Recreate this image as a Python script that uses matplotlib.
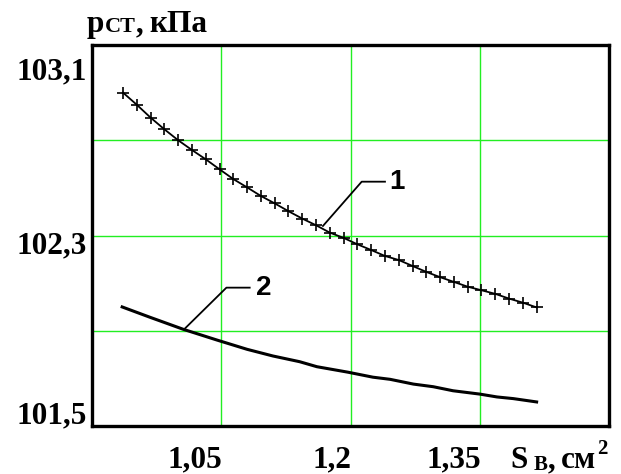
import matplotlib
matplotlib.use("Agg")
import matplotlib.pyplot as plt

# curve 1 (with "+" markers)
s1 = [0.936, 0.952, 0.968, 0.984, 1.000, 1.016, 1.032, 1.048, 1.064, 1.080,
      1.096, 1.112, 1.128, 1.144, 1.160, 1.176, 1.192, 1.208, 1.224, 1.240,
      1.256, 1.272, 1.288, 1.304, 1.320, 1.336, 1.352, 1.368, 1.384, 1.400,
      1.416]
p1 = [102.900, 102.849, 102.795, 102.746, 102.700, 102.659, 102.620, 102.578,
      102.537, 102.502, 102.466, 102.435, 102.402, 102.371, 102.343, 102.312,
      102.290, 102.263, 102.239, 102.214, 102.197, 102.172, 102.147, 102.125,
      102.105, 102.085, 102.070, 102.055, 102.035, 102.018, 101.998]

# curve 2 (thick line)
s2 = [0.935, 0.967, 1.006, 1.045, 1.080, 1.110, 1.141, 1.161, 1.197, 1.226,
      1.246, 1.273, 1.296, 1.319, 1.350, 1.370, 1.389, 1.416]
p2 = [102.000, 101.957, 101.906, 101.861, 101.822, 101.794, 101.770, 101.749,
      101.726, 101.705, 101.696, 101.676, 101.665, 101.648, 101.634, 101.622,
      101.615, 101.601]

x_ticks = [0.9, 1.05, 1.2, 1.35, 1.5]
x_labels = ["", "1,05", "1,2", "1,35", ""]
y_ticks = [101.5, 101.9, 102.3, 102.7, 103.1]
y_labels = ["101,5", "", "102,3", "", "103,1"]

# leader lines for curve numbers
lead1 = [(1.168, 102.340), (1.213, 102.526), (1.240, 102.526)]
lead2 = [(1.008, 101.910), (1.056, 102.081), (1.083, 102.081)]
num1 = (1.245, 102.526)
num2 = (1.090, 102.081)

W, H = 621, 474
fig = plt.figure(figsize=(W / 100, H / 100), dpi=100)
ax = fig.add_axes([92 / W, 1 - 426 / H, 517 / W, 381 / H])

serif = dict(family="Liberation Serif", weight="bold")
fs = 22.5

ax.plot(s1, p1, color="black", lw=1.3, marker="+", ms=8, mew=1.2, zorder=3)
ax.plot(s2, p2, color="black", lw=2.2, zorder=3)

for lead, num, txt in [(lead1, num1, "1"), (lead2, num2, "2")]:
    ax.plot([p[0] for p in lead], [p[1] for p in lead], color="black", lw=1.3, zorder=3)
    ax.text(num[0], num[1], txt, family="Liberation Sans", weight="bold",
            fontsize=20, ha="left", va="center")

ax.set_xlim(x_ticks[0], x_ticks[-1])
ax.set_ylim(y_ticks[0], y_ticks[-1])
ax.set_xticks(x_ticks)
ax.set_yticks(y_ticks)
ax.set_xticklabels([])
ax.set_yticklabels([])
ax.tick_params(length=0)
ax.grid(True, color="#22ee22", lw=1.0)
ax.set_axisbelow(True)
for sp in ax.spines.values():
    sp.set_linewidth(2.4)

# y tick labels (top one sits lower, bottom one higher)
y_offsets = [2, 0, -13, 0, -25]
for v, lab, dy in zip(y_ticks, y_labels, y_offsets):
    if lab:
        ax.annotate(lab, xy=(0, v), xycoords=ax.get_yaxis_transform(),
                    xytext=(-4, dy), textcoords="offset points",
                    ha="right", va="baseline", fontsize=fs, **serif)

# x tick labels, right-aligned to grid lines
for v, lab in zip(x_ticks, x_labels):
    if lab:
        ax.annotate(lab, xy=(v, 0), xycoords=ax.get_xaxis_transform(),
                    xytext=(1, -30), textcoords="offset points",
                    ha="right", va="baseline", fontsize=fs, **serif)

fig.canvas.draw()
renderer = fig.canvas.get_renderer()


def chain(x0, y0, pieces):
    # pieces: (text, fontsize, vertical shift px, gap px before)
    x = x0
    for txt, size, dy, gap in pieces:
        x += gap
        t = fig.text(x / W, 1 - (y0 + dy) / H, txt, fontsize=size,
                     ha="left", va="baseline", **serif)
        x = t.get_window_extent(renderer).x1


chain(87, 32, [("p", fs, 0, 0), ("СТ", 16, 0, 0), (",", fs, 0, 0),
               ("кПа", fs, 0, 6)])
chain(510, 468, [("S", fs, 0, 0), ("В", 15, 2, 6), (",", fs, 0, 0),
                 ("см", fs, 0, 6), ("2", 15, -14, 1)])

fig.savefig("out.png", dpi=100)
